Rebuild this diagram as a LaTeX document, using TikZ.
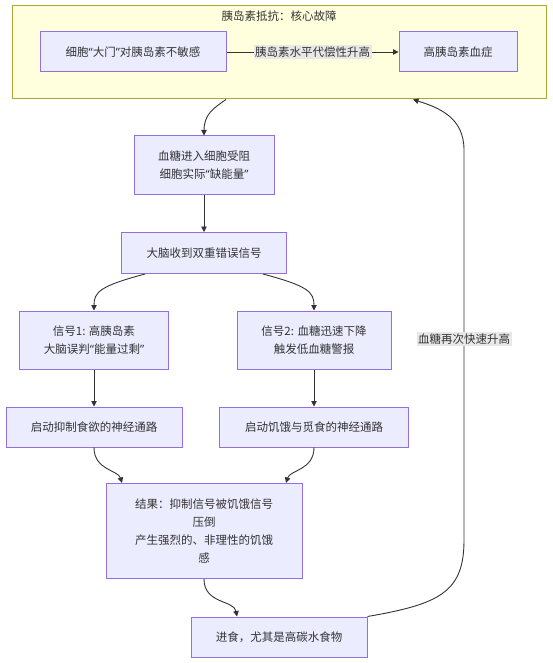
\documentclass[tikz,border=0pt]{standalone}
\usepackage{fontspec}
\setmainfont{Noto Sans CJK SC}
\newfontfamily\quotefont{Noto Sans}
\newcommand{\myqo}{{\quotefont “}}
\newcommand{\myqc}{{\quotefont ”}}
\usetikzlibrary{arrows.meta}
\definecolor{nodefill}{HTML}{ECECFF}
\definecolor{nodeline}{HTML}{9370DB}
\definecolor{clfill}{HTML}{FFFFDE}
\definecolor{clline}{HTML}{AAAA33}
\definecolor{txt}{HTML}{333333}
\definecolor{lblbg}{HTML}{E8E8E8}
\tikzset{
  box/.style={draw=nodeline, fill=nodefill, line width=1pt, text=txt, align=center, inner sep=0pt, font=\fontsize{11.5}{18}\selectfont},
  clusterbox/.style={draw=clline, fill=clfill, line width=1pt, inner sep=0pt},
  lbl/.style={fill=lblbg, text=txt, inner sep=1.5pt, font=\fontsize{11.5}{14}\selectfont},
  titletext/.style={text=txt, inner sep=0pt, font=\fontsize{11.5}{14}\selectfont},
  conn/.style={draw=txt, line width=0.9pt, -{Triangle[length=5.5pt,width=5.5pt]}}
}
\begin{document}
\begin{tikzpicture}[x=1pt,y=-1pt]
\useasboundingbox (0,0) rectangle (552,663);
\fill[white] (0,0) rectangle (552,663);
% cluster
\node[clusterbox, minimum width=534pt, minimum height=93pt] (cl) at (279,52.5) {};
\node[titletext] (clt) at (279,16) {胰岛素抵抗：核心故障};
\node[box, minimum width=186pt, minimum height=40pt] (A) at (133,52) {细胞\myqo 大门\myqc 对胰岛素不敏感};
\node[box, minimum width=118pt, minimum height=40pt] (B) at (458,52) {高胰岛素血症};
% main nodes
\node[box, minimum width=140pt, minimum height=58pt] (C) at (204,165) {血糖进入细胞受阻\\细胞实际\myqo 缺能量\myqc};
\node[box, minimum width=165pt, minimum height=41pt] (D) at (204,253) {大脑收到双重错误信号};
\node[box, minimum width=149pt, minimum height=58pt] (E) at (94,340) {信号1: 高胰岛素\\大脑误判\myqo 能量过剩\myqc};
\node[box, minimum width=154pt, minimum height=58pt] (F) at (314,340) {信号2: 血糖迅速下降\\触发低血糖警报};
\node[box, minimum width=176pt, minimum height=40pt] (G) at (94,427) {启动抑制食欲的神经通路};
\node[box, minimum width=189pt, minimum height=40pt] (H) at (314,427) {启动饥饿与觅食的神经通路};
\node[box, minimum width=196pt, minimum height=95pt] (I) at (204,531) {结果：抑制信号被饥饿信号\\压倒\\产生强烈的、非理性的饥饿\\感};
\node[box, minimum width=176pt, minimum height=40pt] (J) at (279,637) {进食，尤其是高碳水食物};
% edges
\draw[conn] (A.east) -- node[lbl] (lab1) {胰岛素水平代偿性升高} (B.west);
\draw[conn] ([xshift=-53pt]cl.south) .. controls (214,108) and (204,114) .. (C.north);
\draw[conn] (C.south) -- (D.north);
\draw[conn] ([xshift=-59pt]D.south) .. controls (100,286) and (94,292) .. (E.north);
\draw[conn] ([xshift=59pt]D.south) .. controls (308,286) and (314,292) .. (F.north);
\draw[conn] (E.south) -- (G.north);
\draw[conn] (F.south) -- (H.north);
\draw[conn] (G.south) .. controls (94,470) and (118,470) .. ([xshift=-82pt]I.north);
\draw[conn] (H.south) .. controls (314,470) and (290,470) .. ([xshift=82pt]I.north);
\draw[conn] (I.south) .. controls (204,604) and (234,600) .. ([xshift=-42pt]J.north);
\draw[conn] (J.north east) .. controls (440,604) and (464,592) .. (464,540)
  -- node[lbl, pos=0.515] (lab2) {血糖再次快速升高} (464,150)
  .. controls (464,118) and (440,108) .. ([xshift=134pt]cl.south);
\end{tikzpicture}
\end{document}
